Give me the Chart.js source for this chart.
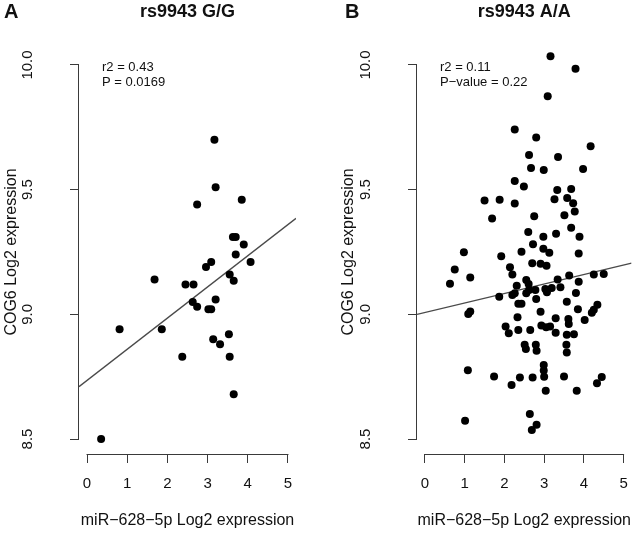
<!DOCTYPE html>
<html>
<head>
<meta charset="utf-8">
<script src="https://cdn.jsdelivr.net/npm/chart.js@4.4.1/dist/chart.umd.min.js"></script>
<style>
  html, body { margin: 0; padding: 0; background: #fff; }
  #wrap { position: relative; width: 640px; height: 534px; }
  .panel { position: absolute; top: 0; width: 320px; height: 534px; }
</style>
</head>
<body>
<div id="wrap">
  <div class="panel" style="left:0"><canvas id="chartA"></canvas></div>
  <div class="panel" style="left:320px"><canvas id="chartB"></canvas></div>
</div>
<script>
// --- data ---

// axes (R style: ticks 0..5 and 8.5..10)
const xTicks = [0, 1, 2, 3, 4, 5];
const yTicks = [8.5, 9.0, 9.5, 10.0];
const xRange = [-0.2, 5.2];
const yRange = [8.44, 10.06];

// panel A : rs9943 G/G
const ggX = [3.17, 3.20, 2.74, 3.85, 3.63, 3.70, 3.90, 3.70, 4.07, 3.09,
             2.96, 1.68, 3.55, 3.65, 2.45, 2.65, 2.63, 2.74, 3.20, 3.02,
             3.09, 0.81, 1.86, 3.53, 3.14, 3.31, 2.37, 3.55, 3.65, 0.35];
const ggY = [9.70, 9.51, 9.44, 9.46, 9.31, 9.31, 9.28, 9.24, 9.21, 9.21,
             9.19, 9.14, 9.16, 9.135, 9.12, 9.12, 9.05, 9.03, 9.06, 9.02,
             9.02, 8.94, 8.94, 8.92, 8.90, 8.88, 8.83, 8.83, 8.68, 8.50];
const ggFitY = [8.71, 9.385];   // regression line at xRange ends

// panel B : rs9943 A/A
const aaX = [3.16, 3.79, 3.09, 2.26, 2.80, 4.17,
             2.62, 3.35, 2.67, 2.99, 3.98, 2.26, 2.49, 3.33, 3.68, 1.50,
             1.88, 2.26, 3.26, 3.58, 3.73, 3.77, 1.69, 2.75, 3.51, 3.68,
             2.60, 2.98, 3.30, 3.89, 2.72, 2.98, 0.98, 2.43, 3.13, 3.87, 1.92,
             2.14, 2.20, 2.70, 2.91, 3.06, 0.75, 0.63, 1.14, 1.87, 2.31,
             2.55, 2.61, 2.20, 2.26, 2.55, 2.62, 2.78, 3.03, 3.07, 3.19,
             3.34, 3.41, 3.63, 3.87, 4.25, 4.50, 3.80, 2.80, 2.35, 2.43,
             3.57, 1.14, 1.09, 2.91, 3.85, 4.34, 4.25, 4.20, 4.02, 2.33,
             3.29, 3.61, 3.62, 2.03, 2.11, 2.35, 2.65, 2.93, 3.05, 3.15,
             3.29, 3.57, 3.75, 2.51, 2.54, 2.79, 2.81, 3.56, 3.57,
             1.08, 1.74, 2.18, 2.39, 2.71, 2.99, 2.99, 3.00, 3.50, 4.45,
             4.33, 3.04, 3.82, 1.01, 2.64, 2.81, 2.69];
const aaY = [10.035, 9.985, 9.875, 9.741, 9.709, 9.674,
             9.639, 9.631, 9.587, 9.579, 9.583, 9.535, 9.513, 9.499, 9.503, 9.457,
             9.460, 9.444, 9.462, 9.467, 9.445, 9.412, 9.384, 9.393, 9.397, 9.347,
             9.330, 9.311, 9.323, 9.311, 9.281, 9.263, 9.249, 9.251, 9.247, 9.244, 9.233,
             9.189, 9.160, 9.205, 9.203, 9.195, 9.180, 9.123, 9.148, 9.071, 9.115,
             9.138, 9.122, 9.078, 9.085, 9.085, 9.098, 9.098, 9.102, 9.089, 9.106,
             9.140, 9.109, 9.156, 9.131, 9.160, 9.162, 9.086, 9.062, 9.042, 9.042,
             9.051, 9.011, 9.001, 9.010, 9.020, 9.038, 9.018, 9.006, 8.977, 8.988,
             8.984, 8.981, 8.961, 8.951, 8.924, 8.937, 8.937, 8.955, 8.948, 8.951,
             8.926, 8.918, 8.920, 8.878, 8.861, 8.878, 8.854, 8.878, 8.847,
             8.776, 8.751, 8.717, 8.747, 8.747, 8.797, 8.775, 8.750, 8.751, 8.749,
             8.724, 8.694, 8.694, 8.573, 8.600, 8.557, 8.536];
const aaFitY = [9.0, 9.205];

// --- style ---
const FONT = '"Liberation Sans", Arial, sans-serif';
const AXIS_COLOR = '#3a3a3a';
const TEXT_COLOR = '#111';

// R-like detached axes, titles and the r2/P notes
const rDecor = {
    id: 'rDecor',
    afterDraw(chart, args, o) {
        const { ctx, chartArea: a, scales: { x, y } } = chart;
        ctx.save();
        ctx.strokeStyle = AXIS_COLOR;
        ctx.lineWidth = 1;
        ctx.beginPath();
        ctx.moveTo(x.getPixelForValue(xTicks[0]) - 0.5, a.bottom + 0.5);
        ctx.lineTo(x.getPixelForValue(xTicks[xTicks.length - 1]) + 0.5, a.bottom + 0.5);
        ctx.moveTo(a.left - 0.5, y.getPixelForValue(yTicks[0]) + 0.5);
        ctx.lineTo(a.left - 0.5, y.getPixelForValue(yTicks[yTicks.length - 1]) - 0.5);
        ctx.stroke();

        ctx.fillStyle = TEXT_COLOR;
        ctx.textBaseline = 'middle';
        ctx.textAlign = 'left';
        ctx.font = 'bold 20px ' + FONT;
        ctx.fillText(o.letter, o.letterX, 12);

        ctx.textAlign = 'center';
        ctx.font = 'bold 18px ' + FONT;
        ctx.fillText(o.title, (a.left + a.right) / 2, 12);

        ctx.textAlign = 'left';
        ctx.font = '13px ' + FONT;
        o.notes.forEach((t, i) => ctx.fillText(t, a.left + 23, a.top + 17 + 15 * i));
        ctx.restore();
    }
};

function toPoints(xs, ys) {
    return xs.map((v, i) => ({ x: v, y: ys[i] }));
}

function makePanel(id, cfg) {
    const ctx = document.getElementById(id).getContext('2d');
    return new Chart(ctx, {
        type: 'scatter',
        data: {
            datasets: [{
                data: toPoints(cfg.xs, cfg.ys),
                backgroundColor: '#000',
                borderWidth: 0,
                pointRadius: 4,
                pointHoverRadius: 4
            }, {
                type: 'line',
                data: toPoints(xRange, cfg.fit),
                borderColor: '#4a4a4a',
                borderWidth: 1.3,
                pointRadius: 0,
                fill: false
            }]
        },
        options: {
            responsive: true,
            maintainAspectRatio: false,
            animation: false,
            events: [],
            layout: { padding: { top: 50, right: cfg.padRight, left: 0, bottom: 0 } },
            plugins: {
                legend: { display: false },
                tooltip: { enabled: false },
                rDecor: cfg.decor
            },
            scales: {
                x: {
                    type: 'linear',
                    min: xRange[0],
                    max: xRange[1],
                    afterBuildTicks: s => { s.ticks = xTicks.map(v => ({ value: v })); },
                    afterFit: s => { s.height = 80; },
                    border: { display: false },
                    grid: { drawOnChartArea: false, drawTicks: true, tickLength: 9, color: AXIS_COLOR, lineWidth: 1 },
                    ticks: { color: TEXT_COLOR, font: { family: FONT, size: 15 }, padding: 12, maxRotation: 0,
                             callback: v => String(v) },
                    title: { display: true, text: 'miR\u2212628\u22125p Log2 expression', color: TEXT_COLOR,
                             font: { family: FONT, size: 16 }, padding: { top: 0, bottom: 4 } }
                },
                y: {
                    type: 'linear',
                    min: yRange[0],
                    max: yRange[1],
                    afterBuildTicks: s => { s.ticks = yTicks.map(v => ({ value: v })); },
                    afterFit: s => { s.width = cfg.yWidth; },
                    border: { display: false },
                    grid: { drawOnChartArea: false, drawTicks: true, tickLength: 9, color: AXIS_COLOR, lineWidth: 1 },
                    ticks: { color: TEXT_COLOR, font: { family: FONT, size: 15 }, padding: 28,
                             minRotation: 90, maxRotation: 90, crossAlign: 'center',
                             callback: v => v.toFixed(1) },
                    title: { display: true, text: 'COG6 Log2 expression', color: TEXT_COLOR,
                             font: { family: FONT, size: 16 }, padding: { top: cfg.yTitlePad, bottom: 0 } }
                }
            }
        },
        plugins: [rDecor]
    });
}

makePanel('chartA', {
    xs: ggX, ys: ggY, fit: ggFitY,
    yWidth: 79, padRight: 24, yTitlePad: 2,
    decor: { letter: 'A', letterX: 4, title: 'rs9943 G/G', notes: ['r2 = 0.43', 'P = 0.0169'] }
});

makePanel('chartB', {
    xs: aaX, ys: aaY, fit: aaFitY,
    yWidth: 97, padRight: 6, yTitlePad: 19,
    decor: { letter: 'B', letterX: 25, title: 'rs9943 A/A', notes: ['r2 = 0.11', 'P\u2212value = 0.22'] }
});
</script>
</body>
</html>
